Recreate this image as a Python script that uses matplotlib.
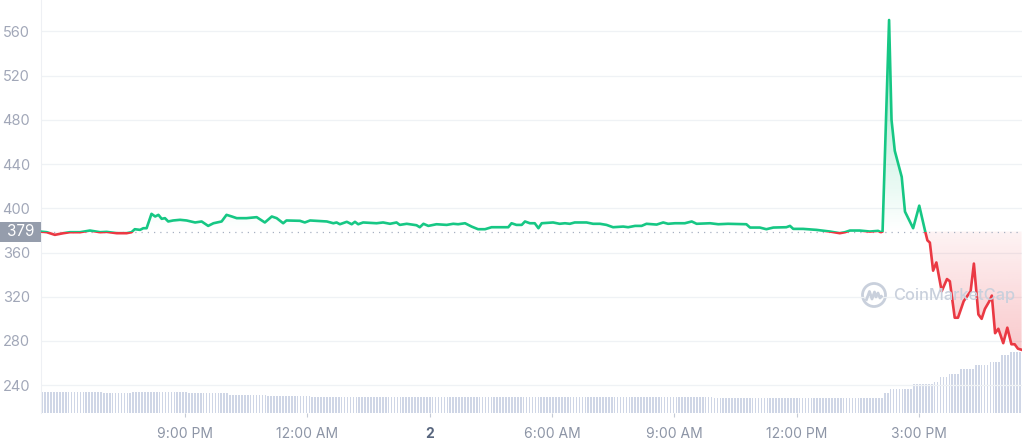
import matplotlib.pyplot as plt
import matplotlib.patches as mpatches
from matplotlib.path import Path
import numpy as np

# price readings: hours since midnight of day 1, price
price_hours = [17.45, 17.61, 17.81, 18.02, 18.18, 18.43, 18.67, 18.92, 19.08, 19.33,
               19.57, 19.69, 19.77, 19.90, 19.98, 20.06, 20.18, 20.27, 20.35, 20.43,
               20.51, 20.59, 20.71, 20.88, 21.04, 21.25, 21.41, 21.57, 21.70, 21.90,
               22.02, 22.15, 22.27, 22.51,
               22.76, 22.96, 23.13, 23.25, 23.41, 23.49, 23.82, 23.94, 24.07, 24.48,
               24.64, 24.72, 24.80, 24.97, 25.09, 25.17, 25.25, 25.37, 25.70, 25.86,
               26.03, 26.19, 26.27, 26.44, 26.68, 26.76, 26.85, 26.97, 27.17, 27.42,
               27.58, 27.70, 27.87,
               28.03, 28.19, 28.36, 28.52, 28.93, 29.01, 29.13, 29.26, 29.34, 29.46,
               29.58, 29.67, 29.75, 30.03, 30.19, 30.32, 30.44, 30.56, 30.85, 31.01,
               31.18, 31.34, 31.50, 31.75, 31.87, 32.04, 32.20, 32.32, 32.57, 32.73,
               32.85, 33.02,
               33.26, 33.43, 33.55, 33.88, 34.08, 34.32, 34.77, 34.86, 35.10, 35.26,
               35.43, 35.75, 35.84, 35.92, 36.16, 36.49, 36.82, 37.06, 37.19, 37.31,
               37.55, 37.80, 38.00, 38.07,
               38.11, 38.27, 38.33, 38.41, 38.58, 38.66, 38.86, 39.01, 39.15, 39.21,
               39.27, 39.35, 39.43, 39.56, 39.69, 39.76, 39.88, 39.96, 40.10, 40.27,
               40.35, 40.46, 40.54, 40.62, 40.73, 40.79, 40.87, 40.95, 41.07, 41.17,
               41.27, 41.35, 41.43, 41.52]
price_values = [379.0, 378.4, 376.0, 377.5, 378.4, 378.4, 379.9, 378.4, 378.7, 377.5,
                377.5, 378.4, 381.1, 380.5, 382.0, 382.0, 395.0, 392.6, 394.1, 390.5,
                391.1, 388.1, 389.0, 389.6, 389.0, 387.2, 388.1, 384.1, 386.5, 388.1,
                394.1, 392.6, 391.1, 391.1,
                392.0, 387.2, 392.6, 391.1, 386.5, 389.0, 388.7, 387.2, 389.0, 388.1,
                386.5, 387.2, 385.6, 387.8, 385.6, 387.8, 385.6, 387.2, 386.5, 387.2,
                386.0, 387.2, 385.0, 386.0, 384.7, 382.9, 386.0, 384.1, 385.6, 385.0,
                386.0, 385.6, 386.5,
                383.5, 381.1, 381.1, 382.9, 382.9, 386.5, 385.0, 385.0, 388.1, 386.5,
                386.5, 382.0, 386.5, 387.2, 386.0, 386.5, 386.0, 387.2, 387.2, 386.0,
                386.0, 385.0, 382.9, 383.5, 382.9, 384.1, 384.1, 386.0, 385.3, 387.2,
                386.0, 386.5,
                386.5, 388.1, 386.0, 386.5, 385.6, 386.0, 385.6, 382.6, 382.6, 381.1,
                382.6, 382.9, 384.1, 381.4, 381.4, 380.5, 379.0, 377.5, 378.4, 379.9,
                379.9, 379.0, 379.6, 378.4,
                379.0, 570.4, 480.0, 452.0, 428.4, 397.0, 382.0, 402.4, 380.0, 371.0,
                369.0, 343.6, 351.0, 325.0, 336.0, 334.0, 301.0, 301.0, 316.0, 325.0,
                350.0, 304.0, 300.0, 309.0, 316.0, 321.0, 287.0, 291.0, 278.0, 292.0,
                277.0, 277.0, 273.0, 272.0]
open_price = 379

# volume (relative) as steps: level holds until the given hour
vol_step_end = [18.99, 19.70, 21.05, 22.06, 23.04, 24.07, 25.05, 33.95, 38.12, 38.24,
                38.85, 39.32, 39.52, 39.71, 40.01, 40.33, 40.69, 40.99, 41.23, 41.70]
vol_levels = [21.5, 20.0, 21.5, 20.0, 18.5, 17.0, 16.5, 15.8, 14.7, 20.0,
              24.5, 29.0, 31.0, 36.0, 39.5, 44.5, 48.0, 51.0, 58.0, 61.5]

ytick_vals = [240, 280, 320, 360, 400, 440, 480, 520, 560]
xtick_hours = [21, 24, 27, 30, 33, 36, 39]
xtick_labels = ['9:00 PM', '12:00 AM', '2', '6:00 AM', '9:00 AM', '12:00 PM', '3:00 PM']

GREEN = '#16c784'
RED = '#ea3943'
plt.rcParams['font.family'] = ['Inter', 'DejaVu Sans']

fig = plt.figure(figsize=(10.24, 4.41), dpi=100)
ax = fig.add_axes([41 / 1024, 28 / 441, 981 / 1024, 413 / 441])
x0, x1 = 17.47, 41.53
y0, y1 = 214.8, 588.5
ax.set_xlim(x0, x1)
ax.set_ylim(y0, y1)

# volume bars on a twin axis
vax = ax.twinx()
vax.set_ylim(0, 413)
bar_times = np.arange(17.50, 41.53, 0.072)
idx = np.searchsorted(vol_step_end, bar_times)
bar_vol = np.array(vol_levels)[np.clip(idx, 0, len(vol_levels) - 1)]
vax.bar(bar_times, bar_vol, width=0.04, color='#cfd6e6', zorder=1)
vax.set_yticks([])
for s in vax.spines.values():
    s.set_visible(False)

ax.set_zorder(vax.get_zorder() + 1)
ax.patch.set_visible(False)

t = np.array(price_hours)
p = np.array(price_values)


# gradient fills, clipped to the area between the line and the open price
def gradient_fill(color, lo, hi, a_lo, a_hi, where):
    poly = ax.fill_between(t, p, open_price, where=where, interpolate=True,
                           color='none', lw=0)
    rgb = plt.matplotlib.colors.to_rgb(color)
    n = 256
    img = np.zeros((n, 2, 4))
    img[:, :, 0], img[:, :, 1], img[:, :, 2] = rgb
    img[:, :, 3] = np.linspace(a_lo, a_hi, n)[:, None]
    lo_, hi_ = min(lo, hi), max(lo, hi)
    if lo > hi:
        img = img[::-1]
    im = ax.imshow(img, aspect='auto', origin='lower', extent=(x0, x1, lo_, hi_),
                   zorder=2, interpolation='bilinear')
    path = Path.make_compound_path(*poly.get_paths())
    im.set_clip_path(path, transform=ax.transData)


gradient_fill(GREEN, open_price, 572, 0.0, 0.45, p >= open_price)
gradient_fill(RED, open_price, 268, 0.06, 0.28, p <= open_price)
ax.set_xlim(x0, x1)
ax.set_ylim(y0, y1)

# line split in colour at the open price
up_clip = mpatches.Rectangle((x0, open_price), x1 - x0, y1 - open_price,
                             transform=ax.transData, visible=False)
dn_clip = mpatches.Rectangle((x0, y0), x1 - x0, open_price - y0,
                             transform=ax.transData, visible=False)
ax.add_patch(up_clip)
ax.add_patch(dn_clip)
lg, = ax.plot(t, p, color=GREEN, lw=1.9, zorder=4, solid_joinstyle='round')
lr, = ax.plot(t, p, color=RED, lw=1.9, zorder=4, solid_joinstyle='round')
lg.set_clip_path(up_clip)
lr.set_clip_path(dn_clip)

ax.axhline(open_price, color='#a8b1c2', lw=0.9, ls=(0, (1, 4)), zorder=3)

# grid and axes styling
ax.set_yticks(ytick_vals)
ax.set_yticklabels([str(v) for v in ytick_vals])
ax.grid(axis='y', color='#eff2f5', lw=0.9)
ax.set_xticks(xtick_hours)
ax.set_xticklabels(xtick_labels)
ax.tick_params(axis='y', length=0, pad=8, labelsize=10.5, labelcolor='#a1a7b8')
ax.tick_params(axis='x', length=3, width=0.8, color='#c5cad6', pad=7,
               labelsize=10, labelcolor='#8d95a6')
for lbl in ax.get_xticklabels():
    if lbl.get_text() == '2':
        lbl.set_color('#58667e')
        lbl.set_fontweight('bold')
for name, s in ax.spines.items():
    s.set_visible(name == 'left')
ax.spines['left'].set_color('#eef0f4')
ax.spines['left'].set_linewidth(0.8)

# current-open label at the left, box spans the gutter
box_y = ax.transData.transform((0, open_price))[1] / 100
fig.add_artist(mpatches.Rectangle((0, box_y - 0.10), 0.41, 0.20,
                                  transform=fig.dpi_scale_trans,
                                  fc='#959dac', ec='none', zorder=6))
fig.text(0.205 / 10.24, box_y / 4.41, '379', ha='center', va='center',
         fontsize=11, color='white', zorder=7)

# watermark
wm = '#c9d0dc'
circ = mpatches.Circle((8.74, 1.46), 0.115, transform=fig.dpi_scale_trans,
                       fill=False, ec=wm, lw=2.0)
fig.add_artist(circ)
zx = np.array([-0.075, -0.045, -0.02, 0.005, 0.02, 0.04, 0.06, 0.075])
zy = np.array([-0.045, 0.035, -0.04, 0.03, -0.02, 0.02, -0.03, -0.015])
zz = plt.Line2D(8.74 + zx, 1.46 + zy, transform=fig.dpi_scale_trans, color=wm, lw=2.0)
fig.add_artist(zz)
fig.text(8.93 / 10.24, 1.455 / 4.41, 'CoinMarketCap', ha='left', va='center',
         fontsize=11.8, color=wm, fontweight='medium')

fig.savefig('out.png', dpi=100)
